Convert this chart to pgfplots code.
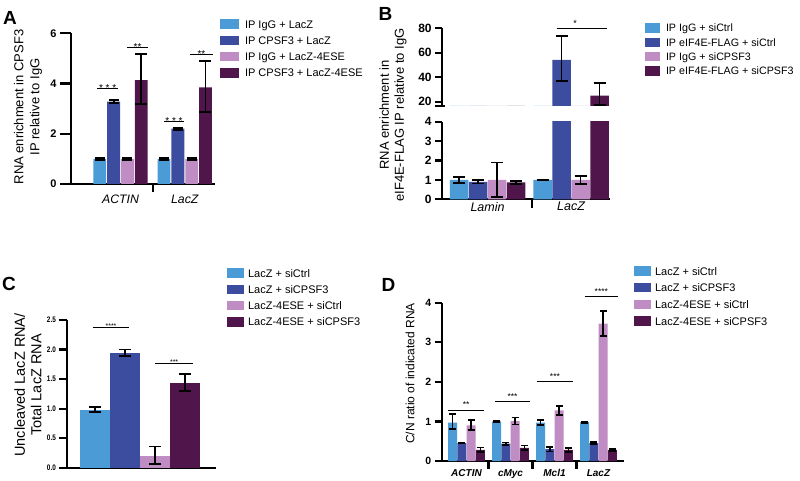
\documentclass[border=0pt]{standalone}
\usepackage{fontspec}
\setmainfont{Liberation Sans}
\usepackage{pgfplots}
\usepackage{pgfplotstable}
\pgfplotsset{compat=1.18}

\definecolor{cA}{RGB}{74,155,214}
\definecolor{cB}{RGB}{60,76,158}
\definecolor{cC}{RGB}{192,140,196}
\definecolor{cD}{RGB}{80,22,76}

\pgfplotsset{
  gp/.style={
    scale only axis, clip mode=individual,
    axis x line*=bottom, axis y line*=left,
    axis line style={line width=2.2pt, -},
    tick style={line width=2.2pt, black},
    tick align=outside,
    xtick style={draw=none},
    /pgf/number format/assume math mode=true,
    legend cell align=left,
  },
  mybar/.style={ybar, bar shift=0pt, draw=none, fill=#1,
    legend image code/.code={\fill[#1] (0pt,-3.5pt) rectangle (\legW,6pt);}},
  errs/.style={error bars/.cd, y dir=both, y explicit,
    error bar style={line width=1.8pt, black},
    error mark options={rotate=90, line width=1.8pt, black, mark size=#1}, /pgfplots/.cd},
  leg/.style n args={4}{legend style={draw=none, fill=none, inner sep=0pt, outer sep=0pt,
    at={(#1,#2)}, anchor=north west, font=\fontsize{#3}{#3}\selectfont,
    nodes={inner sep=0pt, text height=8pt, text depth=2.5pt}, row sep=#4,
    /tikz/every odd column/.append style={column sep=\legG}}},
}
\tikzset{sig/.style={line width=0.9pt, black},
  star/.style={anchor=base, inner sep=0pt}}

% ---------- Panel A data (x = category index) ----------
\pgfplotstableread{
x y ep em
0 1.00 0.03 0.03
1 1.00 0.03 0.03
}\tAa
\pgfplotstableread{
x y ep em
0 3.28 0.07 0.07
1 2.20 0.04 0.04
}\tAb
\pgfplotstableread{
x y ep em
0 1.00 0.03 0.03
1 1.00 0.05 0.05
}\tAc
\pgfplotstableread{
x y ep em
0 4.14 1.03 0.95
1 3.85 1.06 0.99
}\tAd
% ---------- Panel B data ----------
\pgfplotstableread{
x y ep em
0 1.00 0.14 0.14
1 1.00 0.02 0.02
}\tBa
\pgfplotstableread{
x y ep em
0 0.90 0.09 0.09
1 54.1 19.9 17.1
}\tBb
\pgfplotstableread{
x y ep em
0 1.00 0.90 0.87
1 1.00 0.22 0.22
}\tBc
\pgfplotstableread{
x y ep em
0 0.87 0.09 0.09
1 24.9 10.6 7.6
}\tBd
% ---------- Panel C data ----------
\pgfplotstableread{
x y ep em
0 0.98 0.05 0.04
}\tCa
\pgfplotstableread{
x y ep em
1 1.94 0.06 0.05
}\tCb
\pgfplotstableread{
x y ep em
2 0.19 0.17 0.13
}\tCc
\pgfplotstableread{
x y ep em
3 1.43 0.16 0.13
}\tCd
% ---------- Panel D data ----------
\pgfplotstableread{
x y ep em
0 0.97 0.22 0.17
1 1.00 0.02 0.02
2 0.97 0.07 0.07
3 0.98 0.01 0.01
}\tDa
\pgfplotstableread{
x y ep em
0 0.45 0.01 0.01
1 0.44 0.03 0.03
2 0.30 0.06 0.06
3 0.45 0.03 0.03
}\tDb
\pgfplotstableread{
x y ep em
0 0.90 0.13 0.12
1 1.01 0.09 0.09
2 1.28 0.11 0.11
3 3.47 0.33 0.32
}\tDc
\pgfplotstableread{
x y ep em
0 0.28 0.06 0.06
1 0.33 0.06 0.06
2 0.28 0.05 0.05
3 0.28 0.02 0.02
}\tDd

\begin{document}
\begin{tikzpicture}
\path[use as bounding box] (0pt,0pt) rectangle (800pt,-481pt);

% panel letters
\node[font=\bfseries\fontsize{19}{19}\selectfont] at (10pt,-17.5pt) {A};
\node[font=\bfseries\fontsize{19}{19}\selectfont] at (385.5pt,-14pt) {B};
\node[font=\bfseries\fontsize{19}{19}\selectfont] at (9pt,-284pt) {C};
\node[font=\bfseries\fontsize{19}{19}\selectfont] at (388.5pt,-285pt) {D};

% ================= A =================
\def\legW{19pt}\def\legG{6pt}
\begin{axis}[gp,
  at={(71pt,-184pt)}, anchor=south west, width=144pt, height=150.7pt,
  xmin=-0.77, xmax=1.47, ymin=0, ymax=6,
  ytick={0,2,4,6}, major tick length=11pt,
  yticklabel style={font=\bfseries\fontsize{11}{11}\selectfont},
  xtick={0,1}, xticklabels={ACTIN,LacZ},
  xticklabel style={font=\itshape\fontsize{12.3}{12}\selectfont, yshift=3.5pt},
  ylabel={RNA enrichment in CPSF3\\IP relative to IgG},
  ylabel style={align=center, font=\fontsize{13}{16}\selectfont,
    at={(axis description cs:-0.299,0.511)}, anchor=center},
  leg={1.035}{1.093}{11}{5.05pt},
]
\addplot[mybar=cA, bar width=12.8pt, errs=5pt] table[x expr=\thisrow{x}-0.322,y=y,y error plus=ep,y error minus=em] {\tAa};
\addlegendentry{IP IgG + LacZ}
\addplot[mybar=cB, bar width=12.8pt, errs=5pt] table[x expr=\thisrow{x}-0.1073,y=y,y error plus=ep,y error minus=em] {\tAb};
\addlegendentry{IP CPSF3 + LacZ}
\addplot[mybar=cC, bar width=12.8pt, errs=5pt] table[x expr=\thisrow{x}+0.1073,y=y,y error plus=ep,y error minus=em] {\tAc};
\addlegendentry{IP IgG + LacZ-4ESE}
\addplot[mybar=cD, bar width=12.8pt, errs=6pt] table[x expr=\thisrow{x}+0.322,y=y,y error plus=ep,y error minus=em] {\tAd};
\addlegendentry{IP CPSF3 + LacZ-4ESE}
\draw[line width=2.2pt] (axis cs:0.5,0) ++(0pt,1pt) -- ++(0pt,-9pt);
\draw[sig] (axis cs:-0.365,3.82) -- (axis cs:-0.04,3.82);
\node[star, font=\fontsize{10}{10}\selectfont, yshift=-3pt] at (axis cs:-0.2,3.82) {* * *};
\draw[sig] (axis cs:0.10,5.43) -- (axis cs:0.43,5.43);
\node[star, font=\fontsize{10}{10}\selectfont, yshift=-3pt] at (axis cs:0.265,5.43) {**};
\draw[sig] (axis cs:0.676,2.48) -- (axis cs:0.988,2.48);
\node[star, font=\fontsize{10}{10}\selectfont, yshift=-3pt] at (axis cs:0.832,2.48) {* * *};
\draw[sig] (axis cs:1.08,5.17) -- (axis cs:1.44,5.17);
\node[star, font=\fontsize{10}{10}\selectfont, yshift=-3pt] at (axis cs:1.26,5.17) {**};
\end{axis}

% ================= B (upper) =================
\begin{axis}[gp, hide x axis,
  at={(441.7pt,-106pt)}, anchor=south west, width=168.3pt, height=77.7pt,
  xmin=-0.549, xmax=1.467, ymin=16.5, ymax=80,
  ytick={20,40,60,80}, major tick length=6.5pt,
  yticklabel style={font=\bfseries\fontsize{12}{12}\selectfont},
]
\addplot[mybar=cA, bar width=18.5pt, errs=6pt] table[x expr=\thisrow{x}-0.3413,y=y,y error plus=ep,y error minus=em] {\tBa};
\addplot[mybar=cB, bar width=18.5pt, errs=6pt] table[x expr=\thisrow{x}-0.1138,y=y,y error plus=ep,y error minus=em] {\tBb};
\addplot[mybar=cC, bar width=18.5pt, errs=6pt] table[x expr=\thisrow{x}+0.1138,y=y,y error plus=ep,y error minus=em] {\tBc};
\addplot[mybar=cD, bar width=18.5pt, errs=6pt] table[x expr=\thisrow{x}+0.3413,y=y,y error plus=ep,y error minus=em] {\tBd};
\draw[line width=2.2pt] (axis cs:-0.549,16.5) ++(-6.7pt,0pt) -- ++(10pt,0pt);
\draw[sig] (axis cs:0.829,80) -- (axis cs:1.431,80);
\node[star, font=\fontsize{9}{9}\selectfont, yshift=1.8pt] at (axis cs:1.05,80) {*};
\end{axis}

% ================= B (lower) =================
\def\legW{15pt}\def\legG{6pt}
\begin{axis}[gp,
  at={(441.7pt,-199.3pt)}, anchor=south west, width=168.3pt, height=77.6pt,
  xmin=-0.549, xmax=1.467, ymin=0, ymax=4,
  ytick={0,1,2,3,4}, major tick length=6.5pt,
  yticklabel style={font=\bfseries\fontsize{12}{12}\selectfont},
  xtick={0,1}, xticklabels={Lamin,LacZ},
  xticklabel style={font=\itshape\fontsize{12.5}{12}\selectfont, yshift=7pt},
  ylabel={RNA enrichment in\\eIF4E-FLAG IP relative to IgG},
  ylabel style={align=center, font=\fontsize{13}{15}\selectfont,
    at={(axis description cs:-0.289,1.086)}, anchor=center},
  leg={1.208}{2.269}{10.7}{3.05pt},
]
\addplot[mybar=cA, bar width=18.5pt, errs=6pt] table[x expr=\thisrow{x}-0.3413,y=y,y error plus=ep,y error minus=em] {\tBa};
\addlegendentry{IP IgG + siCtrl}
\addplot[mybar=cB, bar width=18.5pt, errs=6pt] table[x expr=\thisrow{x}-0.1138,y=y,y error plus=ep,y error minus=em] {\tBb};
\addlegendentry{IP eIF4E-FLAG + siCtrl}
\addplot[mybar=cC, bar width=18.5pt, errs=6pt] table[x expr=\thisrow{x}+0.1138,y=y,y error plus=ep,y error minus=em] {\tBc};
\addlegendentry{IP IgG + siCPSF3}
\addplot[mybar=cD, bar width=18.5pt, errs=6pt] table[x expr=\thisrow{x}+0.3413,y=y,y error plus=ep,y error minus=em] {\tBd};
\addlegendentry{IP eIF4E-FLAG + siCPSF3}
\draw[line width=2.2pt] (axis cs:0.529,0) ++(0pt,1pt) -- ++(0pt,-10pt);
\end{axis}

% ================= C =================
\def\legW{17pt}\def\legG{4pt}
\begin{axis}[gp,
  at={(66.7pt,-467.7pt)}, anchor=south west, width=149.3pt, height=147.7pt,
  xmin=-0.943, xmax=4.03, ymin=0, ymax=2.5,
  ytick={0,0.5,1,1.5,2,2.5}, major tick length=8pt,
  yticklabel style={font=\bfseries\fontsize{8}{8}\selectfont, xscale=0.8,
    /pgf/number format/.cd, fixed, fixed zerofill, precision=1, /tikz/.cd},
  xtick=\empty,
  ylabel={Uncleaved LacZ RNA/\\Total LacZ RNA},
  ylabel style={align=center, font=\fontsize{14.5}{16.5}\selectfont,
    at={(axis description cs:-0.259,0.56)}, anchor=center},
  leg={1.074}{1.350}{11}{5.05pt},
]
\addplot[mybar=cA, bar width=29.5pt, errs=6.3pt] table[x=x,y=y,y error plus=ep,y error minus=em] {\tCa};
\addlegendentry{LacZ + siCtrl}
\addplot[mybar=cB, bar width=29.5pt, errs=6.3pt] table[x=x,y=y,y error plus=ep,y error minus=em] {\tCb};
\addlegendentry{LacZ + siCPSF3}
\addplot[mybar=cC, bar width=29.5pt, errs=6.3pt] table[x=x,y=y,y error plus=ep,y error minus=em] {\tCc};
\addlegendentry{LacZ-4ESE + siCtrl}
\addplot[mybar=cD, bar width=29.5pt, errs=6.3pt] table[x=x,y=y,y error plus=ep,y error minus=em] {\tCd};
\addlegendentry{LacZ-4ESE + siCPSF3}
\draw[sig] (axis cs:-0.067,2.37) -- (axis cs:1.133,2.37);
\node[star, font=\fontsize{7}{7}\selectfont, yshift=-0.8pt] at (axis cs:0.533,2.37) {****};
\draw[sig] (axis cs:2.0,1.76) -- (axis cs:3.27,1.76);
\node[star, font=\fontsize{7}{7}\selectfont, yshift=-0.8pt] at (axis cs:2.635,1.76) {***};
\end{axis}

% ================= D =================
\def\legW{17pt}\def\legG{4pt}
\begin{axis}[gp,
  at={(441.7pt,-461pt)}, anchor=south west, width=182.3pt, height=158.3pt,
  xmin=-0.564, xmax=3.58, ymin=0, ymax=4,
  ytick={0,1,2,3,4}, major tick length=7pt,
  yticklabel style={font=\bfseries\fontsize{10.5}{10.5}\selectfont},
  xtick={0,1,2,3}, xticklabels={ACTIN,cMyc,Mcl1,LacZ},
  xticklabel style={font=\bfseries\itshape\fontsize{10}{10}\selectfont, yshift=2pt},
  ylabel={C/N ratio of indicated RNA},
  ylabel style={align=center, font=\fontsize{12}{14}\selectfont,
    at={(axis description cs:-0.174,0.553)}, anchor=center},
  leg={1.055}{1.230}{11}{5.45pt},
]
\addplot[mybar=cA, bar width=9pt, errs=3.5pt] table[x expr=\thisrow{x}-0.317,y=y,y error plus=ep,y error minus=em] {\tDa};
\addlegendentry{LacZ + siCtrl}
\addplot[mybar=cB, bar width=9pt, errs=3.5pt] table[x expr=\thisrow{x}-0.1057,y=y,y error plus=ep,y error minus=em] {\tDb};
\addlegendentry{LacZ + siCPSF3}
\addplot[mybar=cC, bar width=9pt, errs=3.5pt] table[x expr=\thisrow{x}+0.1057,y=y,y error plus=ep,y error minus=em] {\tDc};
\addlegendentry{LacZ-4ESE + siCtrl}
\addplot[mybar=cD, bar width=9pt, errs=3.5pt] table[x expr=\thisrow{x}+0.317,y=y,y error plus=ep,y error minus=em] {\tDd};
\addlegendentry{LacZ-4ESE + siCPSF3}
\draw[line width=2.2pt] (axis cs:0.5,0) ++(0pt,1pt) -- ++(0pt,-9pt);
\draw[line width=2.2pt] (axis cs:1.5,0) ++(0pt,1pt) -- ++(0pt,-9pt);
\draw[line width=2.2pt] (axis cs:2.5,0) ++(0pt,1pt) -- ++(0pt,-9pt);
\draw[sig] (axis cs:-0.42,1.29) -- (axis cs:0.40,1.29);
\node[star, font=\fontsize{8.5}{8.5}\selectfont, yshift=2pt] at (axis cs:-0.01,1.29) {**};
\draw[sig] (axis cs:0.65,1.5) -- (axis cs:1.44,1.5);
\node[star, font=\fontsize{8.5}{8.5}\selectfont, yshift=2pt] at (axis cs:1.045,1.5) {***};
\draw[sig] (axis cs:1.6,2.0) -- (axis cs:2.42,2.0);
\node[star, font=\fontsize{8.5}{8.5}\selectfont, yshift=2pt] at (axis cs:2.01,2.0) {***};
\draw[sig] (axis cs:2.69,4.15) -- (axis cs:3.44,4.15);
\node[star, font=\fontsize{8.5}{8.5}\selectfont, yshift=2pt] at (axis cs:3.065,4.15) {****};
\end{axis}
\end{tikzpicture}
\end{document}
